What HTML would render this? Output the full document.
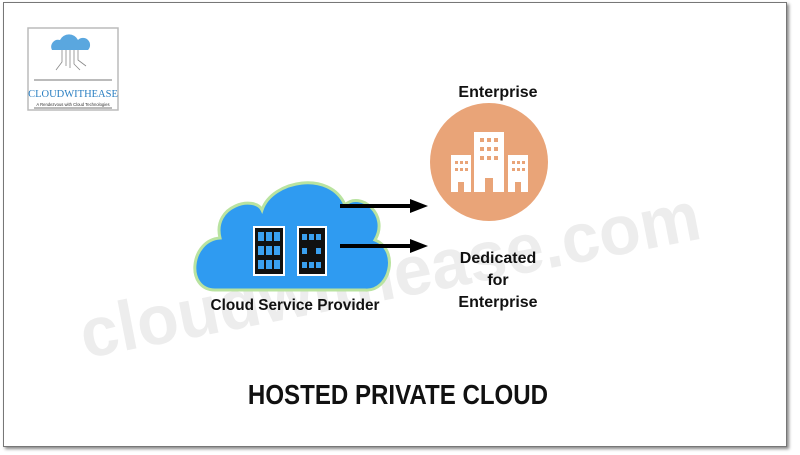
<!DOCTYPE html>
<html><head><style>
body{margin:0;width:800px;height:455px;background:#fff;overflow:hidden;position:relative;font-family:"Liberation Sans",sans-serif}
.frame{position:absolute;left:3px;top:2px;width:782px;height:443px;border:1px solid #777;box-shadow:2px 2px 3px #888}
.t{position:absolute;font-weight:bold;color:#111;text-align:center;font-family:"Liberation Sans",sans-serif}
</style></head><body>
<div class="frame"></div>
<svg width="800" height="455" style="position:absolute;left:0;top:0">
<text x="68" y="300" font-family="Liberation Sans" font-weight="bold" font-size="70" fill="#ededed" textLength="630" lengthAdjust="spacingAndGlyphs" transform="rotate(-11 380 240)">cloudwithease.com</text>
<!-- logo -->
<rect x="28" y="28" width="90" height="82" fill="#fff" stroke="#bbb" stroke-width="1.5"/>
<path d="M52,50 a7,7 0 0 1 8,-10 a10,10 0 0 1 18,0 a7,7 0 0 1 10,10 z" fill="#5aa7df"/>
<g stroke="#888" stroke-width="0.8" fill="none"><path d="M62,50 v12 l-6,8 M66,50 v16 M70,50 v18 M74,50 v14 l6,6 M78,50 v10 l8,6"/></g>
<line x1="34" y1="80" x2="112" y2="80" stroke="#777"/>
<text x="73" y="97" text-anchor="middle" font-family="Liberation Serif" font-size="10.5" fill="#2a7fc2">CLOUDWITHEASE</text>
<text x="73" y="106" text-anchor="middle" font-size="4.2" fill="#333">A Rendezvous with Cloud Technologies</text>
<line x1="34" y1="108" x2="112" y2="108" stroke="#777"/>
<!-- cloud -->
<path d="M215,290 C185,290 190,240 220,238 C212,205 255,195 262,210 C272,180 330,170 345,205 C360,190 390,215 375,240 C400,250 390,292 365,290 Z" fill="#2f9bf1" stroke="#b9e3a0" stroke-width="3"/>
<g>
<rect x="254" y="227" width="30" height="48" fill="#111" stroke="#fff" stroke-width="2"/>
<rect x="298" y="227" width="28" height="48" fill="#111" stroke="#fff" stroke-width="2"/>
<g fill="#3aa0f0">
<rect x="258" y="232" width="6" height="9"/><rect x="266" y="232" width="6" height="9"/><rect x="274" y="232" width="6" height="9"/>
<rect x="258" y="246" width="6" height="9"/><rect x="266" y="246" width="6" height="9"/><rect x="274" y="246" width="6" height="9"/>
<rect x="258" y="260" width="6" height="9"/><rect x="266" y="260" width="6" height="9"/><rect x="274" y="260" width="6" height="9"/>
<rect x="302" y="234" width="5" height="6"/><rect x="309" y="234" width="5" height="6"/><rect x="316" y="234" width="5" height="6"/>
<rect x="302" y="248" width="5" height="6"/><rect x="316" y="248" width="5" height="6"/>
<rect x="302" y="262" width="5" height="6"/><rect x="309" y="262" width="5" height="6"/><rect x="316" y="262" width="5" height="6"/>
</g></g>
<!-- arrows -->
<line x1="340" y1="206" x2="412" y2="206" stroke="#000" stroke-width="4"/>
<polygon points="410,199 428,206 410,213" fill="#000"/>
<line x1="340" y1="246" x2="412" y2="246" stroke="#000" stroke-width="4"/>
<polygon points="410,239 428,246 410,253" fill="#000"/>
<!-- enterprise circle -->
<circle cx="489" cy="162" r="59" fill="#e9a478"/>
<g fill="#fff">
<rect x="474" y="132" width="30" height="60"/>
<rect x="451" y="155" width="20" height="37"/>
<rect x="508" y="155" width="20" height="37"/>
</g>
<g fill="#e9a478">
<rect x="480" y="138" width="4" height="4"/><rect x="487" y="138" width="4" height="4"/><rect x="494" y="138" width="4" height="4"/>
<rect x="480" y="147" width="4" height="4"/><rect x="487" y="147" width="4" height="4"/><rect x="494" y="147" width="4" height="4"/>
<rect x="480" y="156" width="4" height="4"/><rect x="487" y="156" width="4" height="4"/><rect x="494" y="156" width="4" height="4"/>
<rect x="485" y="178" width="8" height="14"/>
<rect x="455" y="161" width="3" height="3"/><rect x="460" y="161" width="3" height="3"/><rect x="465" y="161" width="3" height="3"/>
<rect x="455" y="168" width="3" height="3"/><rect x="460" y="168" width="3" height="3"/><rect x="465" y="168" width="3" height="3"/>
<rect x="512" y="161" width="3" height="3"/><rect x="517" y="161" width="3" height="3"/><rect x="522" y="161" width="3" height="3"/>
<rect x="512" y="168" width="3" height="3"/><rect x="517" y="168" width="3" height="3"/><rect x="522" y="168" width="3" height="3"/>
<rect x="458" y="182" width="6" height="10"/><rect x="515" y="182" width="6" height="10"/>
</g>
</svg>
<div class="t" style="left:420px;top:84px;width:156px;font-size:16px">Enterprise</div>
<div class="t" style="left:420px;top:248px;width:156px;font-size:16px;line-height:22px">Dedicated<br>for<br>Enterprise</div>
<div class="t" style="left:190px;top:297px;width:210px;font-size:16px;transform:scaleX(0.96)">Cloud Service Provider</div>
<div class="t" style="left:200px;top:379px;width:396px;font-size:28px;transform:scaleX(0.86)">HOSTED PRIVATE CLOUD</div>
</body></html>
